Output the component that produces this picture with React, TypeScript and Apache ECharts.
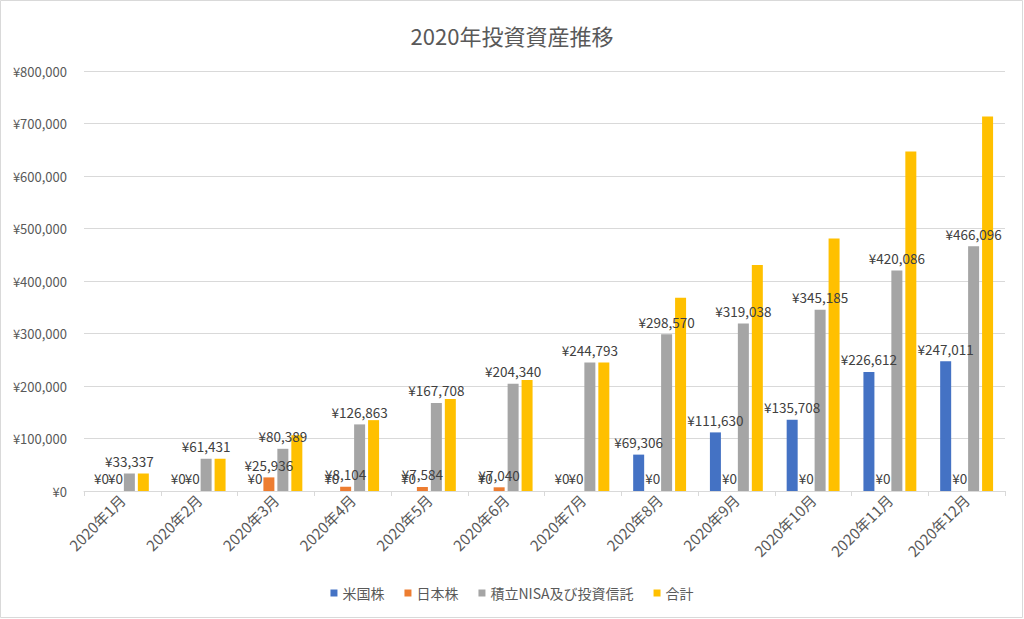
import React, { useEffect, useRef } from "react";
import * as echarts from "echarts";

const categories = [
  "2020年1月", "2020年2月", "2020年3月", "2020年4月", "2020年5月", "2020年6月",
  "2020年7月", "2020年8月", "2020年9月", "2020年10月", "2020年11月", "2020年12月",
];
const usStocks = [0, 0, 0, 0, 0, 0, 0, 69306, 111630, 135708, 226612, 247011];
const jpStocks = [0, 0, 25936, 8104, 7584, 7040, 0, 0, 0, 0, 0, 0];
const nisaFunds = [33337, 61431, 80389, 126863, 167708, 204340, 244793, 298570, 319038, 345185, 420086, 466096];
const totals = [33337, 61431, 106325, 134967, 175292, 211380, 244793, 367876, 430668, 480893, 646698, 713107];

const FONT = "'Noto Sans CJK JP', 'Noto Sans', sans-serif";
const yen = (v: number) => "¥" + Number(v).toLocaleString("en-US");

export default function App() {
  const ref = useRef<HTMLDivElement>(null);
  useEffect(() => {
    document.body.style.margin = "0";
    const chart = echarts.init(ref.current!, undefined, { renderer: "svg" });
    const label = {
      show: true,
      position: "top" as const,
      distance: 6,
      fontSize: 13.5,
      color: "#404040",
      fontFamily: FONT,
      formatter: (p: any) => yen(p.value),
    };
    const mk = (name: string, data: number[], color: string, showLabel: boolean) => ({
      name,
      type: "bar" as const,
      data,
      barWidth: 11,
      barGap: "27%",
      itemStyle: { color },
      label: showLabel ? label : { show: false },
    });
    chart.setOption({
      animation: false,
      textStyle: { fontFamily: FONT },
      title: {
        text: "2020年投資資産推移",
        left: "center",
        top: 19,
        textStyle: { fontSize: 22, fontWeight: "normal", color: "#595959", fontFamily: FONT },
      },
      graphic: [
        {
          type: "rect",
          shape: { x: 0.5, y: 0.5, width: 1022, height: 617 },
          style: { fill: "none", stroke: "#d9d9d9", lineWidth: 1 },
          silent: true,
        },
      ],
      legend: {
        bottom: 14,
        left: "center",
        icon: "rect",
        itemWidth: 7,
        itemHeight: 7,
        itemGap: 20,
        textStyle: { fontSize: 14, color: "#595959", fontFamily: FONT },
      },
      grid: { left: 84, right: 19, top: 71, bottom: 128, containLabel: false },
      xAxis: {
        type: "category",
        data: categories,
        axisLine: { lineStyle: { color: "#d9d9d9" } },
        axisTick: { show: true, length: 5, lineStyle: { color: "#d9d9d9" } },
        axisLabel: { rotate: 45, fontSize: 15, color: "#595959", margin: 6, fontFamily: FONT },
      },
      yAxis: {
        type: "value",
        min: 0,
        max: 800000,
        interval: 100000,
        axisLine: { show: false },
        axisTick: { show: false },
        splitLine: { lineStyle: { color: "#d9d9d9" } },
        axisLabel: { fontSize: 13, color: "#595959", margin: 17, formatter: (v: number) => yen(v), fontFamily: FONT },
      },
      series: [
        mk("米国株", usStocks, "#4472C4", true),
        mk("日本株", jpStocks, "#ED7D31", true),
        mk("積立NISA及び投資信託", nisaFunds, "#A5A5A5", true),
        mk("合計", totals, "#FFC000", false),
      ],
    });
    return () => chart.dispose();
  }, []);
  return <div ref={ref} style={{ width: 1024, height: 619, position: "absolute", left: 0, top: 0 }} />;
}
